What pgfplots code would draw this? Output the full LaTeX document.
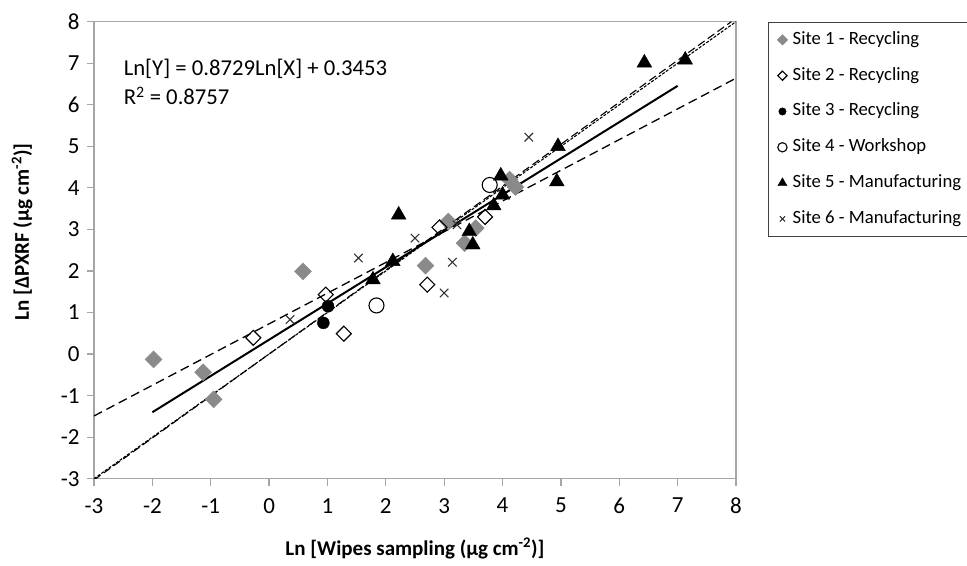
\documentclass[border=0pt]{standalone}
\usepackage{pgfplots}
\pgfplotsset{compat=1.18}
\usepackage{fontspec}
\setmainfont{Carlito}
\definecolor{sgray}{HTML}{8A8A8A}
\definecolor{axgray}{HTML}{A6A6A6}
\begin{document}
\begin{tikzpicture}
\begin{axis}[
  scale only axis, width=642pt, height=457pt,
  xmin=-3, xmax=8, ymin=-3, ymax=8,
  xtick={-3,-2,-1,0,1,2,3,4,5,6,7,8},
  ytick={-3,-2,-1,0,1,2,3,4,5,6,7,8},
  xticklabels={-3,-2,-1,0,1,2,3,4,5,6,7,8},
  yticklabels={-3,-2,-1,0,1,2,3,4,5,6,7,8},
  tick align=outside, major tick length=7pt,
  xtick pos=bottom, ytick pos=left,
  axis line style={draw=axgray, line width=1.2pt},
  every tick/.style={draw=axgray, line width=1.2pt},
  ticklabel style={font=\fontsize{23}{27}\selectfont, text=black},
  yticklabel style={xshift=-4pt},
  xticklabel style={yshift=-9pt},
  xlabel={\textbf{Ln [Wipes sampling (µg cm\textsuperscript{-2})]}},
  ylabel={\textbf{Ln [ΔPXRF (µg cm\textsuperscript{-2})]}},
  every axis x label/.style={at={(rel axis cs:0.5,0)}, anchor=center, yshift=-70pt, font=\fontsize{21}{25}\selectfont},
  every axis y label/.style={at={(rel axis cs:-0.112,0.54)}, anchor=center, rotate=90, font=\fontsize{21}{25}\selectfont},
  legend cell align=left,
  legend image code/.code={\draw[#1, every mark/.append style={scale=0.62}] plot coordinates {(0pt,0pt)};},
  legend style={at={(rel axis cs:1.0498,0.9985)}, anchor=north west,
    draw=none, fill=none,
    font=\fontsize{18.7}{22}\selectfont,
    nodes={text height=13pt, text depth=4pt, inner sep=0pt},
    row sep=18.8pt, inner xsep=9pt, inner ysep=8.8pt,
    /tikz/every odd column/.append style={column sep=5pt}},
]
% lines
\addplot[forget plot, black, line width=1.3pt, dash pattern=on 9pt off 5pt] coordinates {(-3,-1.49) (8,6.64)};
\addplot[forget plot, black, line width=1.1pt, dash pattern=on 3pt off 1.5pt] coordinates {(-3,-3) (8,8)};
\addplot[forget plot, black, line width=1.1pt, dash pattern=on 8pt off 4pt] coordinates {(-3,-3.03) (7.92,8)};
\addplot[forget plot, black, line width=2pt] coordinates {(-2,-1.4005) (7,6.4556)};
% Site 1
\addplot[only marks, mark=square*, mark size=6pt, mark options={rotate=45, fill=sgray, draw=sgray}] coordinates {
(-1.98,-0.13) (-1.13,-0.44) (-0.95,-1.09) (0.58,1.99) (2.68,2.13) (3.07,3.19) (3.35,2.67) (3.54,3.03) (4.12,4.20) (4.22,4.02)};
\addlegendentry{Site 1 - Recycling}
% Site 2
\addplot[only marks, mark=square, mark size=5.3pt, mark options={rotate=45, draw=black, fill=white, line width=1.1pt}] coordinates {
(-0.27,0.39) (0.97,1.43) (1.28,0.49) (2.71,1.67) (2.92,3.05) (3.70,3.30)};
\addlegendentry{Site 2 - Recycling}
% Site 3
\addplot[only marks, mark=*, mark size=6pt, mark options={fill=black, draw=black}] coordinates {
(1.01,1.15) (0.93,0.75)};
\addlegendentry{Site 3 - Recycling}
% Site 4
\addplot[only marks, mark=o, mark size=7.5pt, mark options={draw=black, line width=1.1pt}] coordinates {
(1.84,1.17) (3.78,4.07)};
\addlegendentry{Site 4 - Workshop}
% Site 5
\addplot[only marks, mark=triangle*, mark size=8.5pt, mark options={fill=black, draw=black}] coordinates {
(1.78,1.79) (2.12,2.23) (2.22,3.35) (3.43,2.95) (3.49,2.63) (3.85,3.57) (4.00,3.83) (3.97,4.29) (4.95,5.00) (4.93,4.15) (6.43,7.01) (7.13,7.08)};
\addlegendentry{Site 5 - Manufacturing}
% Site 6
\addplot[only marks, mark=x, mark size=6pt, mark options={draw=black!80, line width=1.1pt}] coordinates {
(0.36,0.83) (1.53,2.31) (2.50,2.79) (3.22,3.11) (3.14,2.21) (3.00,1.47) (4.45,5.22)};
\addlegendentry{Site 6 - Manufacturing}
\node[anchor=west, font=\fontsize{22.7}{29}\selectfont, align=left] at (axis cs:-2.55,6.55) {Ln[Y] = 0.8729Ln[X] + 0.3453\\R\textsuperscript{2} = 0.8757};
\end{axis}
\draw[black!75, line width=0.9pt] ([shift={(232pt,-1pt)}]current axis.north east) -- ([shift={(32pt,-1pt)}]current axis.north east) -- ([shift={(32pt,242.3pt)}]current axis.south east) -- ([shift={(232pt,242.3pt)}]current axis.south east);
\pgfresetboundingbox
\path[use as bounding box] ([shift={(-94pt,-87pt)}]current axis.south west) rectangle ([shift={(231pt,21.7pt)}]current axis.north east);
\end{tikzpicture}
\end{document}
